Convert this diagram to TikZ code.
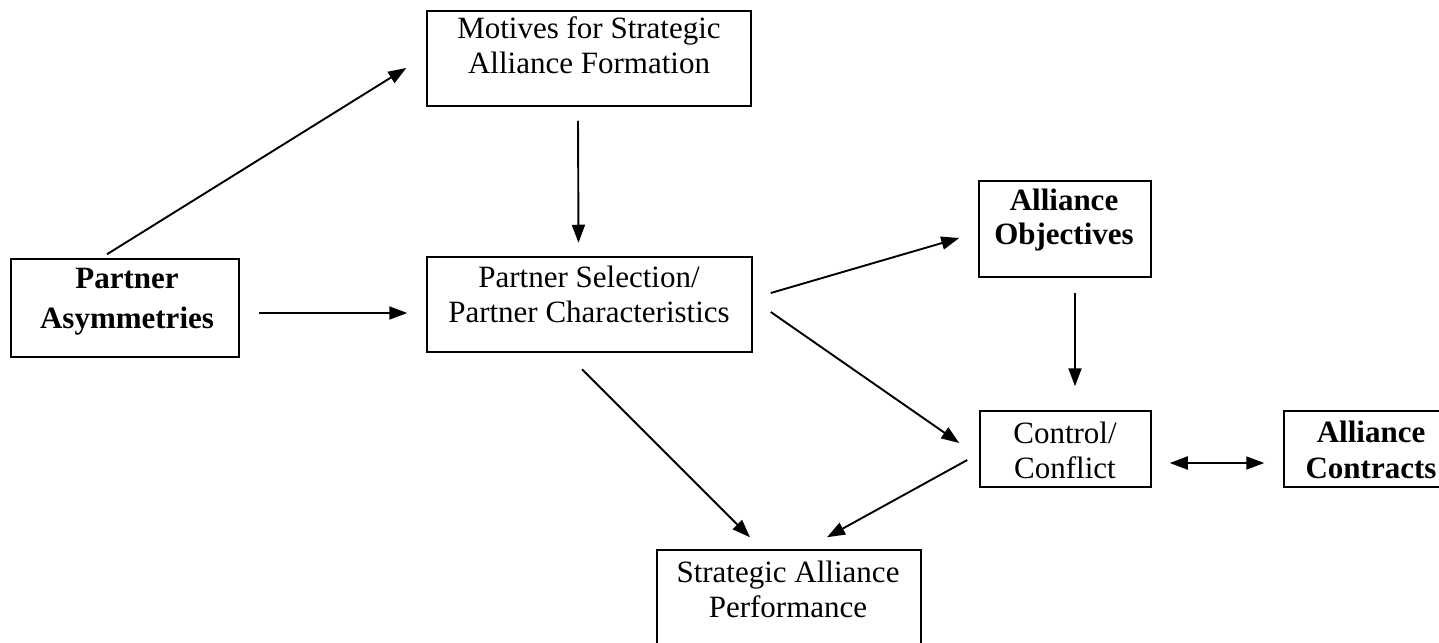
\documentclass[tikz,border=0pt]{standalone}
\usepackage{fontspec}
\setmainfont{Liberation Serif}
\usetikzlibrary{arrows.meta,calc}

% two centred lines, the node's baseline is that of the first line
\newcommand\twoln[2]{\begin{tabular}[t]{@{}c@{}}#1\\#2\end{tabular}}

\tikzset{
  box/.style={draw=black, line width=1.5pt, inner sep=0pt, fill=none},
  lbl/.style={anchor=base, inner sep=0pt},
  reg/.style={lbl, font=\fontsize{31}{35}\selectfont},
  bld/.style={lbl, font=\fontsize{31}{#1}\selectfont\bfseries},
  tip/.tip={Triangle[length=18pt,width=13pt]},
  arr/.style={line width=1.9pt, -tip},
  darr/.style={line width=1.9pt, tip-tip}
}

\begin{document}
\begin{tikzpicture}[x=1pt,y=-1pt]
\useasboundingbox (0,0) rectangle (1439,642);
\fill[white] (0,0) rectangle (1439,642);
\clip (0,0) rectangle (1439,642);

% boxes
\node[box, minimum width=324, minimum height=95] (mot)  at (589,58.5)    {};
\node[box, minimum width=228, minimum height=98] (asym) at (125,308)     {};
\node[box, minimum width=325, minimum height=95] (ps)   at (589.5,304.5) {};
\node[box, minimum width=172, minimum height=96] (obj)  at (1065,229)    {};
\node[box, minimum width=171, minimum height=76] (ctl)  at (1065.5,449)  {};
\node[box, minimum width=174, minimum height=76] (con)  at (1371,449)    {};
\node[box, minimum width=264, minimum height=100] (perf) at (789,600)    {};

% box texts
\node[reg] (motT)  at (589,39)    {\twoln{Motives for Strategic}{Alliance Formation}};
\node[bld=40] (asymT) at (127,288) {\twoln{Partner}{Asymmetries}};
\node[reg] (psT)   at (589,287)   {\twoln{Partner Selection/}{Partner Characteristics}};
\node[bld=34] (objT) at (1064,210) {\twoln{Alliance}{Objectives}};
\node[reg] (ctlT)  at (1065,443)  {\twoln{Control/}{Conflict}};
\node[bld=36] (conT) at (1371,442) {\twoln{Alliance}{Contracts}};
\node[reg] (perfT) at (788,582)   {\twoln{Strategic Alliance}{Performance}};

% connectors
\draw[arr] ($(asym.north)+(-18,-4)$) -- ($(mot.west)+(-20,9.5)$);
\draw[arr] ($(asym.east)+(19,5)$)    -- ($(ps.west)+(-19,8.5)$);
\draw[arr] ($(mot.south)+(-11,14)$)  -- ($(ps.north)+(-11,-13.5)$);
\draw[arr] ($(ps.east)+(18,-11.5)$)  -- ($(obj.west)+(-19,9)$);
\draw[arr] ($(ps.east)+(18,7.5)$)    -- ($(ctl.west)+(-20,-6)$);
\draw[arr] ($(ps.south)+(-7.5,16.5)$) -- ($(perf.north)+(-39,-12)$);
\draw[arr] ($(ctl.west)+(-12,11)$)   -- ($(perf.north)+(38,-12)$);
\draw[arr] ($(obj.south)+(10,15)$)   -- ($(ctl.north)+(9.5,-24)$);
\draw[darr] ($(ctl.east)+(18,14)$)   -- ($(con.west)+(-19,14)$);
\end{tikzpicture}
\end{document}
